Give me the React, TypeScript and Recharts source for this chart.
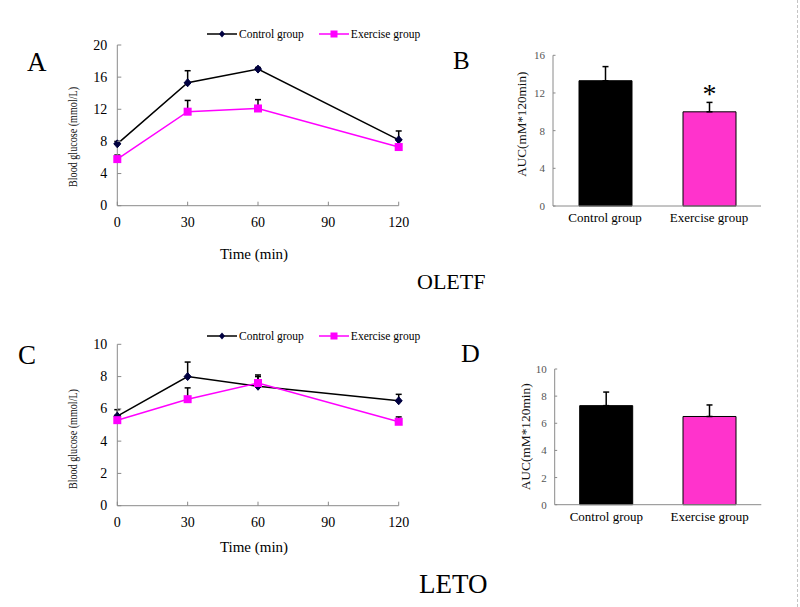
import React from 'react';
import {
  LineChart, Line, BarChart, Bar, Cell, XAxis, YAxis, ErrorBar, Legend, LabelList,
} from 'recharts';

// OGTT time points (min)
const timePoints = [0, 30, 60, 120];
const timeTicks = [0, 30, 60, 90, 120];

// OLETF blood glucose (mmol/L), mean and upper SEM
const oletfControl = [7.7, 15.3, 17.0, 8.2];
const oletfControlSem = [0.3, 1.5, 0.2, 1.1];
const oletfExercise = [5.8, 11.7, 12.1, 7.3];
const oletfExerciseSem = [0.5, 1.4, 1.1, 0.3];

// LETO blood glucose (mmol/L)
const letoControl = [5.55, 8.0, 7.4, 6.5];
const letoControlSem = [0.4, 0.9, 0.6, 0.4];
const letoExercise = [5.3, 6.6, 7.6, 5.2];
const letoExerciseSem = [0.3, 0.7, 0.5, 0.3];

// AUC (mM*120min)
const groups = ['Control group', 'Exercise group'];
const oletfAuc = [13.3, 10.0];
const oletfAucSem = [1.5, 1.0];
const letoAuc = [7.3, 6.5];
const letoAucSem = [1.0, 0.85];
const oletfSig = ['', '*'];
const letoSig = ['', ''];

const oletfTicks = [0, 4, 8, 12, 16, 20];
const letoTicks = [0, 2, 4, 6, 8, 10];
const oletfAucTicks = [0, 4, 8, 12, 16];
const letoAucTicks = [0, 2, 4, 6, 8, 10];

const AXIS_GREY = '#8a8a8a';
const MAGENTA = '#ff00ff';
const NAVY = '#000040';
const barColors = ['#000000', '#ff33cc'];

const glucoseRows = (ctrl: number[], ctrlSem: number[], ex: number[], exSem: number[]) =>
  timePoints.map((t, i) => ({
    time: t,
    control: ctrl[i],
    controlErr: [0, ctrlSem[i]],
    exercise: ex[i],
    exerciseErr: [0, exSem[i]],
  }));

const aucRows = (auc: number[], sem: number[], sig: string[]) =>
  groups.map((g, i) => ({ group: g, auc: auc[i], aucErr: [0, sem[i]], sig: sig[i] }));

const DiamondDot = (props: any) => {
  const { cx, cy } = props;
  if (cx == null || cy == null) return <g />;
  return (
    <polygon
      points={`${cx},${cy - 4} ${cx + 3.5},${cy} ${cx},${cy + 4} ${cx - 3.5},${cy}`}
      fill={NAVY}
      stroke={NAVY}
    />
  );
};

const SquareDot = (props: any) => {
  const { cx, cy } = props;
  if (cx == null || cy == null) return <g />;
  return <rect x={cx - 4} y={cy - 4} width={8} height={8} fill={MAGENTA} />;
};

const xTickInward = (props: any) => {
  const { x, y, payload } = props;
  return (
    <g>
      <line x1={x} x2={x} y1={y} y2={y - 4} stroke={AXIS_GREY} />
      <text x={x} y={y + 21} textAnchor="middle" fontSize={14} fill="#000">
        {payload.value}
      </text>
    </g>
  );
};

const yTickInward = (len: number, gap: number, size: number, color: string) => (props: any) => {
  const { x, y, payload } = props;
  return (
    <g>
      <line x1={x} x2={x + len} y1={y} y2={y} stroke={AXIS_GREY} />
      <text x={x - gap} y={y} textAnchor="end" dominantBaseline="central" fontSize={size} fill={color}>
        {payload.value}
      </text>
    </g>
  );
};

const yTitle = (value: string, dx: number, dy: number, size: number, length: number) => (props: any) => {
  const vb = props.viewBox;
  const x = vb.x + dx;
  const y = vb.y + vb.height / 2 + dy;
  return (
    <text
      x={x}
      y={y}
      transform={`rotate(-90 ${x} ${y})`}
      textAnchor="middle"
      dominantBaseline="central"
      fontSize={size}
      fill="#111"
      textLength={length}
      lengthAdjust="spacingAndGlyphs"
    >
      {value}
    </text>
  );
};

const xTitle = (value: string, dx: number, dy: number) => (props: any) => {
  const vb = props.viewBox;
  return (
    <text x={vb.x + vb.width / 2 + dx} y={vb.y + dy} textAnchor="middle" fontSize={15} fill="#000">
      {value}
    </text>
  );
};

const LineLegend = (props: any) => (
  <div style={{ display: 'flex', alignItems: 'center', fontSize: 11.5, lineHeight: '12px', whiteSpace: 'nowrap' }}>
    {(props.payload || []).map((entry: any, i: number) => (
      <div key={entry.value} style={{ display: 'flex', alignItems: 'center', marginRight: 15 }}>
        <svg width={30} height={10} style={{ marginRight: 2 }}>
          <line x1={0} x2={30} y1={5} y2={5} stroke={entry.color} strokeWidth={1.5} />
          {i === 0 ? (
            <polygon points="15,1.5 18,5 15,8.5 12,5" fill={NAVY} />
          ) : (
            <rect x={11.5} y={1.5} width={7} height={7} fill={MAGENTA} />
          )}
        </svg>
        <span>{entry.value}</span>
      </div>
    ))}
  </div>
);

interface GlucoseProps {
  data: any[];
  height: number;
  top: number;
  bottom: number;
  ticks: number[];
  legendTop: number;
  titleDy: number;
  xTitleDy: number;
}

const GlucoseChart: React.FC<GlucoseProps> = ({ data, height, top, bottom, ticks, legendTop, titleDy, xTitleDy }) => (
  <LineChart width={430} height={height} data={data} margin={{ top, right: 31.3, bottom, left: 77.3 }}>
    <XAxis
      dataKey="time"
      type="number"
      domain={[0, 120]}
      ticks={timeTicks}
      height={30}
      stroke={AXIS_GREY}
      tickLine={false}
      tickSize={0}
      tickMargin={0}
      tick={xTickInward}
      label={xTitle('Time (min)', -4, xTitleDy)}
    />
    <YAxis
      width={40}
      domain={[0, ticks[ticks.length - 1]]}
      ticks={ticks}
      stroke={AXIS_GREY}
      tickLine={false}
      tickSize={0}
      tickMargin={0}
      tick={yTickInward(4, 10, 14, '#000')}
      label={yTitle('Blood glucose (mmol/L)', -5, titleDy, 13, 100)}
    />
    <Legend
      verticalAlign="middle"
      align="center"
      layout="horizontal"
      content={LineLegend}
      wrapperStyle={{ top: legendTop, left: 207, width: 'auto' }}
    />
    <Line
      type="linear"
      dataKey="control"
      name="Control group"
      stroke="#000"
      strokeWidth={1.5}
      dot={DiamondDot}
      activeDot={false}
      isAnimationActive={false}
    >
      <ErrorBar dataKey="controlErr" direction="y" width={3} stroke="#000" strokeWidth={1.5} />
    </Line>
    <Line
      type="linear"
      dataKey="exercise"
      name="Exercise group"
      stroke={MAGENTA}
      strokeWidth={1.5}
      dot={SquareDot}
      activeDot={false}
      isAnimationActive={false}
    >
      <ErrorBar dataKey="exerciseErr" direction="y" width={3} stroke="#000" strokeWidth={1.5} />
    </Line>
  </LineChart>
);

interface AucProps {
  data: any[];
  height: number;
  top: number;
  bottom: number;
  left: number;
  right: number;
  ticks: number[];
  titleDx: number;
  titleDy: number;
  titleLength: number;
}

const AucChart: React.FC<AucProps> = ({ data, height, top, bottom, left, right, ticks, titleDx, titleDy, titleLength }) => (
  <BarChart width={360} height={height} data={data} margin={{ top, right, bottom, left }}>
    <XAxis
      dataKey="group"
      height={30}
      stroke={AXIS_GREY}
      tickLine={false}
      tickSize={0}
      tickMargin={7}
      tick={{ fill: '#000', fontSize: 13 }}
    />
    <YAxis
      width={30}
      domain={[0, ticks[ticks.length - 1]]}
      ticks={ticks}
      stroke={AXIS_GREY}
      tickLine={false}
      tickSize={0}
      tickMargin={0}
      tick={yTickInward(2.5, 8, 11, '#555')}
      label={yTitle('AUC(mM*120min)', titleDx, titleDy, 13, titleLength)}
    />
    <Bar dataKey="auc" barSize={53} stroke="#000" strokeWidth={1} isAnimationActive={false}>
      {data.map((d, i) => (
        <Cell key={d.group} fill={barColors[i]} />
      ))}
      <ErrorBar dataKey="aucErr" direction="y" width={3} stroke="#000" strokeWidth={1.5} />
      <LabelList dataKey="sig" position="top" offset={9} fontSize={28} fill="#000" />
    </Bar>
  </BarChart>
);

const panelLetter: React.CSSProperties = { position: 'absolute', fontSize: 27, lineHeight: 1 };

export default function App() {
  return (
    <div
      style={{
        position: 'absolute',
        left: 0,
        top: 0,
        width: 800,
        height: 607,
        background: '#fff',
        fontFamily: '"Liberation Serif", "Times New Roman", serif',
        color: '#000',
        overflow: 'hidden',
      }}
    >
      <div style={{ position: 'absolute', left: 0, top: 0 }}>
        <GlucoseChart
          data={glucoseRows(oletfControl, oletfControlSem, oletfExercise, oletfExerciseSem)}
          height={300}
          top={45}
          bottom={64.3}
          ticks={oletfTicks}
          legendTop={28}
          titleDy={11.6}
          xTitleDy={53.3}
        />
      </div>
      <div style={{ position: 'absolute', left: 440, top: 0 }}>
        <AucChart
          data={aucRows(oletfAuc, oletfAucSem, oletfSig)}
          height={300}
          top={55.3}
          bottom={64}
          left={83}
          right={39}
          ticks={oletfAucTicks}
          titleDx={-1.3}
          titleDy={-6.5}
          titleLength={105}
        />
      </div>
      <div style={{ position: 'absolute', left: 0, top: 300 }}>
        <GlucoseChart
          data={glucoseRows(letoControl, letoControlSem, letoExercise, letoExerciseSem)}
          height={307}
          top={44.3}
          bottom={71.3}
          ticks={letoTicks}
          legendTop={30}
          titleDy={14}
          xTitleDy={46.3}
        />
      </div>
      <div style={{ position: 'absolute', left: 440, top: 300 }}>
        <AucChart
          data={aucRows(letoAuc, letoAucSem, letoSig)}
          height={307}
          top={69}
          bottom={72.3}
          left={84.7}
          right={38.7}
          ticks={letoAucTicks}
          titleDx={1.1}
          titleDy={0}
          titleLength={107}
        />
      </div>

      <div style={{ ...panelLetter, left: 27, top: 49 }}>A</div>
      <div style={{ ...panelLetter, left: 453, top: 48, fontSize: 25 }}>B</div>
      <div style={{ ...panelLetter, left: 18, top: 342 }}>C</div>
      <div style={{ ...panelLetter, left: 461, top: 341, fontSize: 26 }}>D</div>
      <div style={{ position: 'absolute', left: 417, top: 271, fontSize: 22, lineHeight: 1 }}>OLETF</div>
      <div style={{ position: 'absolute', left: 419, top: 571, fontSize: 27, lineHeight: 1 }}>LETO</div>

      <div style={{ position: 'absolute', left: 797, top: 0, height: 607, borderLeft: '1px dashed #c4c4c4' }} />
    </div>
  );
}
